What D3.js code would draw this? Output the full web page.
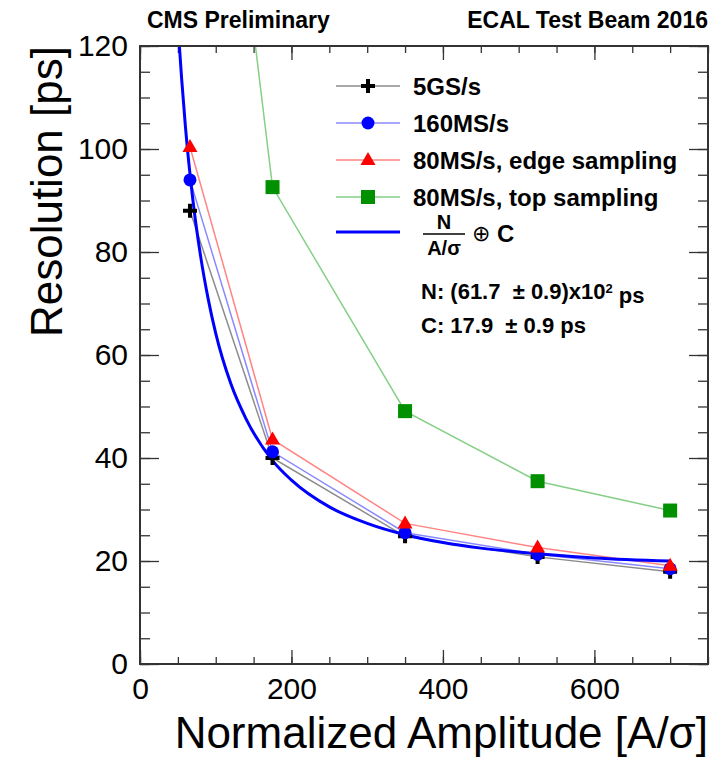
<!DOCTYPE html>
<html lang="en">
<head>
<meta charset="UTF-8">
<title>ECAL Test Beam 2016 - time resolution</title>
<script src="https://d3js.org/d3.v7.min.js"></script>
<style>
  body { margin: 0; background: #fff; }
  svg { display: block; font-family: "Liberation Sans", Arial, sans-serif; }
</style>
</head>
<body>
<div id="chart"></div>
<script>
// data
const amplitude = [66, 175, 350, 525, 700];
const res5GS = [88.0, 40.0, 24.8, 20.8, 17.9];
const res160MS = [94.0, 41.2, 25.5, 21.3, 18.5];
const res80Edge = [100.4, 43.6, 27.3, 22.6, 19.1];
const res80Top = [225, 92.6, 49.1, 35.5, 29.8];

// fit curve N/(A/sigma) (+) C
const fitX = [52, 55, 60, 70, 80, 90, 100, 120, 140, 175, 200, 250, 300, 350, 400, 450, 525, 600, 700];
const fitY = [120, 113.6, 104.3, 89.9, 79.2, 70.9, 64.2, 54.4, 47.6, 39.5, 35.7, 30.5, 27.3, 25.1, 23.6, 22.5, 21.4, 20.6, 20.0];

const xMajor = [0, 200, 400, 600];
const yMajor = [0, 20, 40, 60, 80, 100, 120];

const width = 720, height = 760;
const plotLeft = 140, plotRight = 708, plotTop = 46, plotBottom = 664;

const svg = d3.select("#chart").append("svg")
    .attr("width", width)
    .attr("height", height);

const x = d3.scaleLinear().domain([0, 750]).range([plotLeft, plotRight]);
const y = d3.scaleLinear().domain([0, 120]).range([plotBottom, plotTop]);

svg.append("defs").append("clipPath").attr("id", "plot")
    .append("rect")
    .attr("x", plotLeft).attr("y", plotTop)
    .attr("width", plotRight - plotLeft).attr("height", plotBottom - plotTop);

// axes (ticks inside the frame, like ROOT)
const xMinor = d3.range(0, 751, 50);
const yMinor = d3.range(0, 121, 5);

function styleAxis(g) {
    g.select(".domain").remove();
    g.selectAll(".tick line").attr("stroke", "#333").attr("stroke-width", 1.3);
    g.selectAll(".tick text").attr("fill", "#000").style("font-size", "30px");
}

svg.append("g").attr("transform", `translate(0,${plotBottom})`)
    .call(d3.axisBottom(x).tickValues(xMinor).tickSize(-7).tickFormat(""))
    .call(styleAxis);
svg.append("g").attr("transform", `translate(0,${plotBottom})`)
    .call(d3.axisBottom(x).tickValues(xMajor).tickSize(-14).tickPadding(14).tickFormat(d3.format("d")))
    .call(styleAxis);
svg.append("g").attr("transform", `translate(0,${plotTop})`)
    .call(d3.axisTop(x).tickValues(xMinor).tickSize(-7).tickFormat(""))
    .call(styleAxis);
svg.append("g").attr("transform", `translate(0,${plotTop})`)
    .call(d3.axisTop(x).tickValues(xMajor).tickSize(-14).tickFormat(""))
    .call(styleAxis);

svg.append("g").attr("transform", `translate(${plotLeft},0)`)
    .call(d3.axisLeft(y).tickValues(yMinor).tickSize(-10).tickFormat(""))
    .call(styleAxis);
svg.append("g").attr("transform", `translate(${plotLeft},0)`)
    .call(d3.axisLeft(y).tickValues(yMajor).tickSize(-19).tickPadding(12).tickFormat(d3.format("d")))
    .call(styleAxis);
svg.append("g").attr("transform", `translate(${plotRight},0)`)
    .call(d3.axisRight(y).tickValues(yMinor).tickSize(-10).tickFormat(""))
    .call(styleAxis);
svg.append("g").attr("transform", `translate(${plotRight},0)`)
    .call(d3.axisRight(y).tickValues(yMajor).tickSize(-19).tickFormat(""))
    .call(styleAxis);

// series
const series = [
    { name: "5GS/s", values: res5GS, line: "#8c8c8c", marker: "cross", color: "#000" },
    { name: "160MS/s", values: res160MS, line: "#8a8aff", marker: "circle", color: "#0000ff" },
    { name: "80MS/s, edge sampling", values: res80Edge, line: "#ff8585", marker: "triangle", color: "#ff0000" },
    { name: "80MS/s, top sampling", values: res80Top, line: "#86cf86", marker: "square", color: "#009000" }
];

const line = d3.line().x(d => x(d[0])).y(d => y(d[1]));
const fitLine = d3.line().x(d => x(d[0])).y(d => y(d[1])).curve(d3.curveMonotoneX);
const plot = svg.append("g").attr("clip-path", "url(#plot)");

series.forEach(s => {
    plot.append("path")
        .datum(amplitude.map((a, i) => [a, s.values[i]]))
        .attr("fill", "none")
        .attr("stroke", s.line)
        .attr("stroke-width", 1.5)
        .attr("d", line);
});

plot.append("path")
    .datum(fitX.map((a, i) => [a, fitY[i]]))
    .attr("fill", "none")
    .attr("stroke", "#0000ff")
    .attr("stroke-width", 3)
    .attr("d", fitLine);

function drawMarker(g, type, color, cx, cy) {
    if (type === "cross") {
        g.append("path")
            .attr("d", `M${cx - 7},${cy}H${cx + 7}M${cx},${cy - 7}V${cy + 7}`)
            .attr("stroke", color).attr("stroke-width", 4);
    } else if (type === "circle") {
        g.append("circle").attr("cx", cx).attr("cy", cy).attr("r", 6.5).attr("fill", color);
    } else if (type === "triangle") {
        g.append("path")
            .attr("d", `M${cx},${cy - 8}L${cx + 7.5},${cy + 5}L${cx - 7.5},${cy + 5}Z`)
            .attr("fill", color);
    } else {
        g.append("rect").attr("x", cx - 7).attr("y", cy - 7)
            .attr("width", 14).attr("height", 14).attr("fill", color);
    }
}

series.forEach(s => {
    amplitude.forEach((a, i) => {
        if (s.values[i] <= 120) drawMarker(plot, s.marker, s.color, x(a), y(s.values[i]));
    });
});

// frame
svg.append("rect")
    .attr("x", plotLeft).attr("y", plotTop)
    .attr("width", plotRight - plotLeft).attr("height", plotBottom - plotTop)
    .attr("fill", "none").attr("stroke", "#333").attr("stroke-width", 2);

// legend
const legendY = [86, 123, 160, 197];
const legend = svg.append("g");
series.forEach((s, i) => {
    legend.append("line")
        .attr("x1", 336).attr("x2", 400)
        .attr("y1", legendY[i]).attr("y2", legendY[i])
        .attr("stroke", s.line).attr("stroke-width", 1.5);
    drawMarker(legend, s.marker, s.color, 368, legendY[i]);
    legend.append("text")
        .attr("x", 413).attr("y", legendY[i]).attr("dy", "0.36em")
        .style("font-size", "24px").style("font-weight", "bold")
        .text(s.name);
});

legend.append("line")
    .attr("x1", 336).attr("x2", 400).attr("y1", 232).attr("y2", 232)
    .attr("stroke", "#0000ff").attr("stroke-width", 3);
legend.append("text").attr("x", 444).attr("y", 229)
    .attr("text-anchor", "middle").style("font-size", "20px").style("font-weight", "bold")
    .text("N");
legend.append("line")
    .attr("x1", 423).attr("x2", 465).attr("y1", 234).attr("y2", 234)
    .attr("stroke", "#000").attr("stroke-width", 1.5);
legend.append("text").attr("x", 444).attr("y", 255)
    .attr("text-anchor", "middle").style("font-size", "20px").style("font-weight", "bold")
    .text("A/σ");
legend.append("text").attr("x", 481).attr("y", 233).attr("dy", "0.35em")
    .attr("text-anchor", "middle").style("font-size", "22px")
    .text("⊕");
legend.append("text").attr("x", 497).attr("y", 233).attr("dy", "0.36em")
    .style("font-size", "24px").style("font-weight", "bold")
    .text("C");

const nText = legend.append("text").attr("x", 421).attr("y", 291).attr("dy", "0.36em")
    .style("font-size", "22px").style("font-weight", "bold")
    .style("white-space", "pre");
nText.append("tspan").text("N: (61.7  ± 0.9)x10");
nText.append("tspan").attr("dy", "-0.45em").style("font-size", "13px").text("2");
nText.append("tspan").attr("dy", "0.45em").text(" ps");

legend.append("text").attr("x", 421).attr("y", 325).attr("dy", "0.36em")
    .style("font-size", "22px").style("font-weight", "bold")
    .style("white-space", "pre")
    .text("C: 17.9  ± 0.9 ps");

// headers
svg.append("text").attr("x", 147).attr("y", 28)
    .style("font-size", "23px").style("font-weight", "bold")
    .text("CMS Preliminary");
svg.append("text").attr("x", 708).attr("y", 28).attr("text-anchor", "end")
    .style("font-size", "23px").style("font-weight", "bold")
    .text("ECAL Test Beam 2016");

// axis titles
svg.append("text")
    .attr("transform", `translate(62,${plotTop}) rotate(-90)`)
    .attr("text-anchor", "end")
    .style("font-size", "44px")
    .text("Resolution [ps]");
svg.append("text")
    .attr("x", plotRight).attr("y", 748)
    .attr("text-anchor", "end")
    .style("font-size", "44px")
    .text("Normalized Amplitude [A/σ]");
</script>
</body>
</html>
